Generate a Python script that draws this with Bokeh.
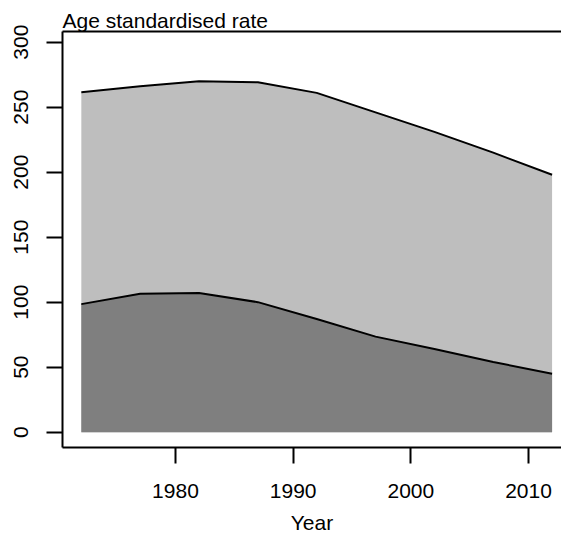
from bokeh.plotting import figure
from bokeh.models import Range1d, FixedTicker, LinearAxis
from bokeh.embed import file_html
from bokeh.resources import INLINE

years = [1972, 1977, 1982, 1987, 1992, 1997, 2002, 2007, 2012]
total_rate = [261.5, 266, 270, 269.2, 261, 246, 231, 215, 198]
lower_rate = [98.5, 106.5, 107, 100, 87, 73.5, 64, 54, 45]
baseline = [0] * len(years)
x_ticks = [1980, 1990, 2000, 2010]
y_ticks = [0, 50, 100, 150, 200, 250, 300]

FONT = "Liberation Sans"
FS = "21px"

p = figure(width=561, height=539, output_backend="svg", toolbar_location=None,
           x_range=Range1d(1970.4, 2012.8), y_range=Range1d(-11.8, 308.2),
           min_border_left=62, min_border_right=0, min_border_top=31,
           min_border_bottom=92)
p.outline_line_color = None
p.grid.visible = False
p.background_fill_color = "white"
p.border_fill_color = "white"

p.title.text = "Age standardised rate"
p.title.align = "left"
p.title.text_font = FONT
p.title.text_font_size = FS
p.title.text_font_style = "normal"
p.title.text_color = "black"
p.title.standoff = 0
p.title.offset = 0

p.varea(x=years, y1=baseline, y2=total_rate, fill_color="#BEBEBE")
p.varea(x=years, y1=baseline, y2=lower_rate, fill_color="#7F7F7F")
p.line(years, total_rate, line_color="black", line_width=2)
p.line(years, lower_rate, line_color="black", line_width=2)

for ax in (p.xaxis[0], p.yaxis[0]):
    ax.axis_line_width = 2
    ax.major_tick_line_width = 2
    ax.major_tick_in = 0
    ax.major_tick_out = 16
    ax.minor_tick_line_color = None
    ax.major_label_text_font = FONT
    ax.major_label_text_font_size = FS
    ax.major_label_text_color = "black"
    ax.axis_label_text_font = FONT
    ax.axis_label_text_font_size = FS
    ax.axis_label_text_font_style = "normal"
    ax.axis_label_text_color = "black"

p.xaxis[0].ticker = FixedTicker(ticks=x_ticks)
p.xaxis[0].major_label_standoff = 20
p.xaxis[0].axis_label = "Year"
p.xaxis[0].axis_label_standoff = 10

p.yaxis[0].ticker = FixedTicker(ticks=y_ticks)
p.yaxis[0].major_label_orientation = "vertical"
p.yaxis[0].major_label_standoff = 18

top = LinearAxis(ticker=FixedTicker(ticks=[]), axis_line_width=2,
                 major_tick_line_color=None, minor_tick_line_color=None,
                 major_label_text_font_size="0px")
p.add_layout(top, "above")

open("out.html", "w").write(file_html(p, INLINE))
